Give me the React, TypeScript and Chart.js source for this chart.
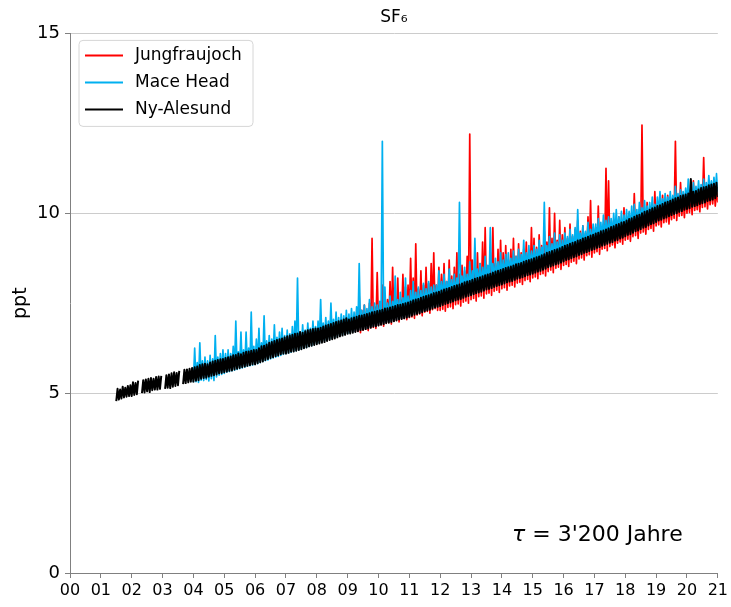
import React, { useEffect, useRef } from "react";
import { Chart, registerables } from "chart.js";

Chart.register(...registerables);

const FONT = '"DejaVu Sans", sans-serif';

const chartTitle = "SF₆";
const yAxisTitle = "ppt";
const noteSymbol = "τ";
const noteText = " = 3'200 Jahre";
const xTickLabels = ["00","01","02","03","04","05","06","07","08","09","10","11","12","13","14","15","16","17","18","19","20","21"];
const xMin = 2000;
const xMax = 2021;
const yTicks = [0, 5, 10, 15];

const seriesNames = ["Jungfraujoch", "Mace Head", "Ny-Alesund"];
const seriesColors = ["#ff0000", "#00b0f0", "#000000"];

// monthly minimum / maximum of the records; first month of each station
const monthYears = 1 / 12;
const jungfraujochStart = 2009.25;
const maceHeadStart = 2004.0;
const nyAlesundStart = 2001.5;

const jungfraujochLow = [
  6.7, 6.72, 6.68, 6.75, 6.78, 6.74, 6.82, 6.83, 6.8,
  6.88, 6.9, 6.86, 6.94, 6.96, 6.92, 7.0, 7.03, 6.98, 7.06, 7.08, 7.04,
  7.1, 7.12, 7.08, 7.17, 7.2, 7.15, 7.25, 7.27, 7.22, 7.32, 7.35, 7.3,
  7.3, 7.33, 7.28, 7.38, 7.4, 7.35, 7.46, 7.48, 7.42, 7.53, 7.56, 7.5,
  7.6, 7.63, 7.56, 7.68, 7.7, 7.64, 7.76, 7.78, 7.72, 7.83, 7.86, 7.8,
  7.9, 7.93, 7.86, 7.98, 8.0, 7.95, 8.06, 8.08, 8.02, 8.13, 8.16, 8.1,
  8.2, 8.23, 8.18, 8.3, 8.32, 8.26, 8.38, 8.42, 8.35, 8.47, 8.5, 8.44,
  8.55, 8.58, 8.52, 8.64, 8.67, 8.6, 8.73, 8.76, 8.7, 8.82, 8.85, 8.78,
  8.9, 8.93, 8.86, 9.0, 9.02, 8.96, 9.08, 9.12, 9.04, 9.17, 9.2, 9.14,
  9.25, 9.28, 9.22, 9.35, 9.38, 9.3, 9.45, 9.48, 9.42, 9.55, 9.58, 9.5,
  9.65, 9.68, 9.62, 9.74, 9.76, 9.7, 9.82, 9.86, 9.8, 9.92, 9.94, 9.88,
  10.0, 10.02, 9.96, 10.08, 10.1, 10.04, 10.16, 10.18, 10.12, 10.24, 10.26, 10.2,
  10.3,
];
const jungfraujochHigh = [
  7.25, 7.7, 7.3, 7.45, 7.3, 7.5, 9.3, 7.4, 8.35,
  7.45, 8.0, 7.75, 7.6, 8.1, 8.5, 7.7, 8.2, 7.6, 8.3, 7.95, 8.0,
  8.75, 8.2, 9.15, 7.9, 8.4, 8.0, 8.5, 8.05, 8.6, 8.9, 8.0, 8.5,
  8.3, 8.6, 8.1, 8.7, 8.25, 8.5, 8.9, 8.3, 8.55, 8.4, 8.8, 12.2,
  8.7, 8.5, 8.9, 8.6, 9.2, 9.6, 8.5, 8.9, 9.6, 8.6, 9.0, 9.25,
  8.9, 9.1, 8.7, 9.0, 9.3, 8.8, 9.15, 8.9, 9.0, 9.2, 8.95, 9.6,
  9.3, 9.05, 9.4, 9.1, 9.5, 9.2, 10.15, 9.3, 10.0, 9.25, 9.8, 9.4,
  9.6, 9.3, 9.7, 9.35, 9.55, 9.8, 9.5, 9.65, 9.45, 9.9, 10.35, 9.6,
  9.6, 10.2, 9.55, 9.7, 11.25, 10.9, 9.65, 9.8, 9.7, 9.9, 9.75, 10.15,
  9.85, 10.0, 9.9, 10.55, 9.95, 10.1, 12.45, 10.05, 10.3, 10.1, 10.2, 10.6,
  10.2, 10.3, 10.5, 10.3, 10.5, 10.35, 10.45, 12.0, 10.4, 10.85, 10.45, 10.55,
  10.5, 10.65, 10.9, 10.6, 10.7, 10.65, 11.55, 10.7, 10.8, 10.75, 10.85, 10.6,
  10.5,
];

const maceHeadLow = [
  5.3, 5.32, 5.3, 5.36, 5.35, 5.38, 5.34, 5.4, 5.35, 5.45, 5.5, 5.52,
  5.55, 5.58, 5.6, 5.62, 5.64, 5.66, 5.68, 5.7, 5.72, 5.75, 5.76, 5.78,
  5.8, 5.82, 5.85, 5.88, 5.9, 5.92, 5.95, 5.98, 6.0, 6.02, 6.05, 6.08,
  6.1, 6.12, 6.14, 6.16, 6.18, 6.2, 6.22, 6.25, 6.27, 6.3, 6.32, 6.35,
  6.38, 6.4, 6.42, 6.45, 6.48, 6.5, 6.52, 6.55, 6.58, 6.6, 6.62, 6.65,
  6.66, 6.68, 6.7, 6.72, 6.75, 6.76, 6.78, 6.8, 6.82, 6.85, 6.86, 6.88,
  6.9, 6.92, 6.95, 6.96, 6.98, 7.0, 7.02, 7.05, 7.06, 7.08, 7.1, 7.12,
  7.15, 7.18, 7.2, 7.22, 7.25, 7.28, 7.3, 7.32, 7.35, 7.38, 7.4, 7.42,
  7.55, 7.58, 7.6, 7.62, 7.65, 7.68, 7.7, 7.72, 7.75, 7.78, 7.8, 7.82,
  7.85, 7.88, 7.9, 7.92, 7.95, 7.98, 8.0, 8.02, 8.05, 8.08, 8.1, 8.12,
  8.15, 8.18, 8.2, 8.22, 8.25, 8.28, 8.3, 8.32, 8.35, 8.38, 8.4, 8.42,
  8.45, 8.48, 8.5, 8.53, 8.56, 8.6, 8.62, 8.65, 8.68, 8.7, 8.73, 8.76,
  8.8, 8.82, 8.85, 8.88, 8.9, 8.94, 8.96, 9.0, 9.02, 9.05, 9.08, 9.1,
  9.15, 9.18, 9.2, 9.22, 9.25, 9.28, 9.32, 9.34, 9.38, 9.4, 9.44, 9.46,
  9.5, 9.54, 9.56, 9.6, 9.64, 9.66, 9.7, 9.74, 9.76, 9.8, 9.84, 9.86,
  9.9, 9.94, 9.96, 10.0, 10.02, 10.06, 10.08, 10.12, 10.14, 10.18, 10.2, 10.22,
  10.25, 10.28, 10.3, 10.32, 10.36, 10.38, 10.4, 10.44, 10.46, 10.48, 10.5, 10.54,
  10.6,
];
const maceHeadHigh = [
  6.25, 5.85, 6.4, 5.9, 6.0, 5.9, 6.05, 5.95, 6.6, 6.0, 6.1, 6.2,
  6.1, 6.2, 6.1, 6.3, 7.0, 6.15, 6.7, 6.2, 6.7, 6.25, 7.25, 6.3,
  6.5, 6.8, 6.4, 7.15, 6.45, 6.6, 6.5, 6.9, 6.55, 6.7, 6.8, 6.6,
  6.75, 6.65, 6.85, 7.0, 8.2, 6.7, 6.9, 6.75, 6.95, 6.8, 7.0, 6.85,
  7.0, 7.6, 6.95, 7.1, 7.0, 7.5, 7.05, 7.25, 7.1, 7.2, 7.15, 7.3,
  7.2, 7.35, 7.25, 7.4, 8.6, 7.3, 7.45, 7.35, 7.6, 7.4, 7.5, 7.45,
  7.55, 12.0, 7.95, 7.5, 7.7, 7.55, 8.25, 7.6, 7.8, 7.65, 8.2, 7.7,
  7.85, 8.1, 7.8, 7.95, 7.85, 8.05, 7.9, 8.1, 7.95, 8.0, 8.0, 8.4,
  8.1, 8.3, 8.1, 8.45, 8.15, 8.3, 8.2, 10.3, 8.25, 8.5, 8.3, 8.65,
  8.4, 9.3, 8.45, 8.6, 8.5, 8.8, 8.55, 9.6, 8.6, 8.75, 8.65, 8.9,
  8.7, 8.85, 8.9, 8.75, 8.95, 8.8, 9.0, 8.85, 9.25, 8.9, 9.1, 8.95,
  9.1, 9.0, 9.25, 9.05, 10.3, 9.1, 9.35, 9.15, 9.45, 9.2, 9.4, 9.25,
  9.45, 9.35, 9.55, 9.4, 9.6, 10.1, 9.45, 9.65, 9.5, 9.75, 9.55, 9.7,
  9.7, 9.85, 9.75, 9.95, 9.8, 9.9, 9.85, 10.0, 10.1, 9.9, 10.05, 9.95,
  10.1, 10.05, 10.2, 10.25, 10.1, 10.3, 10.15, 10.35, 10.2, 10.3, 10.45, 10.25,
  10.45, 10.6, 10.4, 10.55, 10.45, 10.6, 10.5, 10.75, 10.55, 10.65, 10.6, 10.7,
  10.95, 10.7, 10.85, 10.75, 10.9, 10.8, 10.95, 10.85, 11.05, 10.9, 11.0, 11.1,
  10.9,
];

const nyAlesundLow = [
  4.78, 4.82, 4.85, 4.88, 4.9, 4.92,
  4.92, 4.95, 4.97, null, 5.0, 5.02, 5.05, 5.03, 5.08, 5.1, 5.1, 5.12,
  null, 5.12, 5.15, 5.14, 5.18, 5.2, 5.22, null, 5.25, 5.28, 5.3, 5.32,
  5.32, 5.35, 5.36, 5.4, 5.42, 5.43, 5.46, 5.48, 5.5, 5.52, 5.55, 5.56,
  5.58, 5.6, 5.62, 5.63, 5.66, 5.68, 5.7, 5.72, 5.74, 5.76, 5.78, 5.8,
  5.8, 5.83, 5.86, 5.88, 5.92, 5.95, 5.98, 6.0, 6.03, 6.05, 6.08, 6.1,
  6.1, 6.12, 6.15, 6.16, 6.18, 6.2, 6.22, 6.25, 6.27, 6.3, 6.32, 6.34,
  6.36, 6.38, 6.4, 6.42, 6.45, 6.48, 6.5, 6.52, 6.55, 6.58, 6.6, 6.62,
  6.65, 6.66, 6.68, 6.7, 6.72, 6.75, 6.76, 6.78, 6.8, 6.82, 6.85, 6.86,
  6.88, 6.9, 6.92, 6.95, 6.96, 6.98, 7.0, 7.02, 7.05, 7.06, 7.08, 7.1,
  7.12, 7.15, 7.18, 7.2, 7.22, 7.25, 7.28, 7.3, 7.32, 7.35, 7.38, 7.4,
  7.42, 7.45, 7.48, 7.5, 7.52, 7.55, 7.58, 7.6, 7.62, 7.65, 7.68, 7.7,
  7.72, 7.75, 7.78, 7.8, 7.82, 7.85, 7.88, 7.9, 7.92, 7.95, 7.98, 8.0,
  8.02, 8.05, 8.08, 8.1, 8.12, 8.15, 8.18, 8.2, 8.22, 8.25, 8.28, 8.3,
  8.32, 8.35, 8.38, 8.4, 8.43, 8.46, 8.5, 8.52, 8.55, 8.58, 8.6, 8.63,
  8.66, 8.7, 8.72, 8.75, 8.78, 8.8, 8.84, 8.86, 8.9, 8.92, 8.95, 8.98,
  9.0, 9.04, 9.06, 9.1, 9.12, 9.15, 9.18, 9.2, 9.24, 9.26, 9.3, 9.32,
  9.36, 9.4, 9.42, 9.46, 9.5, 9.52, 9.56, 9.6, 9.62, 9.66, 9.7, 9.72,
  9.76, 9.8, 9.82, 9.86, 9.88, 9.92, 9.95, 9.98, 10.0, 10.04, 10.06, 10.1,
  10.12, 10.14, 10.18, 10.2, 10.22, 10.26, 10.28, 10.3, 10.34, 10.36, 10.38, 10.42,
  10.45,
];
const nyAlesundHigh = [
  5.12, 5.1, 5.18, 5.15, 5.2, 5.22,
  5.3, 5.28, 5.35, null, 5.36, 5.38, 5.4, 5.42, 5.4, 5.45, 5.46, 5.48,
  null, 5.5, 5.52, 5.55, 5.58, 5.56, 5.62, null, 5.65, 5.66, 5.68, 5.7,
  5.72, 5.74, 5.78, 5.8, 5.82, 5.8, 5.85, 5.88, 5.9, 5.92, 5.94, 5.95,
  5.98, 6.0, 6.02, 6.05, 6.06, 6.1, 6.08, 6.12, 6.15, 6.16, 6.18, 6.2,
  6.2, 6.25, 6.3, 6.32, 6.35, 6.4, 6.42, 6.45, 6.48, 6.5, 6.52, 6.55,
  6.58, 6.6, 6.62, 6.65, 6.66, 6.7, 6.68, 6.72, 6.75, 6.76, 6.78, 6.8,
  6.8, 6.82, 6.85, 6.88, 6.9, 6.92, 6.95, 6.98, 7.0, 7.02, 7.05, 7.08,
  7.05, 7.08, 7.1, 7.12, 7.15, 7.16, 7.18, 7.2, 7.22, 7.25, 7.26, 7.28,
  7.3, 7.32, 7.35, 7.36, 7.38, 7.4, 7.42, 7.45, 7.46, 7.48, 7.5, 7.52,
  7.55, 7.58, 7.6, 7.62, 7.65, 7.68, 7.7, 7.72, 7.75, 7.78, 7.8, 7.82,
  7.85, 7.88, 7.9, 7.92, 7.95, 7.98, 8.0, 8.02, 8.05, 8.08, 8.1, 8.12,
  8.15, 8.18, 8.2, 8.22, 8.25, 8.28, 8.3, 8.32, 8.35, 8.38, 8.4, 8.42,
  8.45, 8.48, 8.5, 8.52, 8.55, 8.58, 8.6, 8.62, 8.65, 8.68, 8.7, 8.72,
  8.75, 8.78, 8.8, 8.83, 8.86, 8.9, 8.92, 8.95, 8.98, 9.0, 9.03, 9.06,
  9.1, 9.12, 9.15, 9.18, 9.2, 9.24, 9.26, 9.3, 9.32, 9.35, 9.38, 9.4,
  9.44, 9.46, 9.5, 9.52, 9.55, 9.58, 9.62, 9.64, 9.68, 9.7, 9.74, 9.76,
  9.8, 9.84, 9.86, 9.9, 9.94, 9.96, 10.0, 10.04, 10.06, 10.1, 10.14, 10.16,
  10.2, 10.22, 10.26, 10.3, 10.32, 10.35, 10.38, 10.42, 10.44, 10.48, 10.5, 10.52,
  10.55, 10.95, 10.6, 10.62, 10.66, 10.7, 10.72, 10.74, 10.78, 10.8, 10.82, 10.85,
  10.75,
];

function toPoints(start: number, lows: (number | null)[], highs: (number | null)[]) {
  const pts: { x: number; y: number | null }[] = [];
  lows.forEach((lo, i) => {
    const t = start + i * monthYears;
    pts.push({ x: t, y: lo });
    pts.push({ x: t + monthYears / 2, y: highs[i] });
  });
  return pts;
}

const legendPlugin = {
  id: "boxLegend",
  afterDatasetsDraw(chart: any) {
    const ctx = chart.ctx;
    const ca = chart.chartArea;
    const x0 = ca.left + 9;
    const y0 = ca.top + 7;
    const w = 174;
    const h = 86;
    const r = 4;
    ctx.save();
    ctx.beginPath();
    ctx.moveTo(x0 + r, y0);
    ctx.lineTo(x0 + w - r, y0);
    ctx.quadraticCurveTo(x0 + w, y0, x0 + w, y0 + r);
    ctx.lineTo(x0 + w, y0 + h - r);
    ctx.quadraticCurveTo(x0 + w, y0 + h, x0 + w - r, y0 + h);
    ctx.lineTo(x0 + r, y0 + h);
    ctx.quadraticCurveTo(x0, y0 + h, x0, y0 + h - r);
    ctx.lineTo(x0, y0 + r);
    ctx.quadraticCurveTo(x0, y0, x0 + r, y0);
    ctx.closePath();
    ctx.fillStyle = "rgba(255,255,255,0.85)";
    ctx.fill();
    ctx.strokeStyle = "#d6d6d6";
    ctx.lineWidth = 1;
    ctx.stroke();
    ctx.font = `17px ${FONT}`;
    ctx.textBaseline = "middle";
    ctx.textAlign = "left";
    chart.data.datasets.forEach((ds: any, i: number) => {
      const yy = y0 + 15 + i * 27;
      ctx.strokeStyle = ds.borderColor;
      ctx.lineWidth = 2;
      ctx.beginPath();
      ctx.moveTo(x0 + 6, yy);
      ctx.lineTo(x0 + 44, yy);
      ctx.stroke();
      ctx.fillStyle = "#000";
      ctx.fillText(ds.label, x0 + 56, yy);
    });
    ctx.restore();
  },
};

const notePlugin = {
  id: "tauNote",
  afterDraw(chart: any) {
    const ctx = chart.ctx;
    const ca = chart.chartArea;
    ctx.save();
    ctx.fillStyle = "#000";
    ctx.textBaseline = "alphabetic";
    ctx.textAlign = "left";
    const x = ca.left + 442;
    const y = ca.bottom - 32;
    ctx.font = `italic 22px ${FONT}`;
    ctx.fillText(noteSymbol, x, y);
    const w = ctx.measureText(noteSymbol).width;
    ctx.font = `22px ${FONT}`;
    ctx.fillText(noteText, x + w, y);
    ctx.restore();
  },
};

export default function App() {
  const ref = useRef<HTMLCanvasElement | null>(null);

  useEffect(() => {
    if (!ref.current) return;
    const chart = new Chart(ref.current, {
      type: "line",
      data: {
        datasets: [
          { label: seriesNames[0], data: toPoints(jungfraujochStart, jungfraujochLow, jungfraujochHigh), order: 3 },
          { label: seriesNames[1], data: toPoints(maceHeadStart, maceHeadLow, maceHeadHigh), order: 2 },
          { label: seriesNames[2], data: toPoints(nyAlesundStart, nyAlesundLow, nyAlesundHigh), order: 1 },
        ].map((d, i) => ({
          ...d,
          borderColor: seriesColors[i],
          backgroundColor: seriesColors[i],
          borderWidth: i === 2 ? 2 : 1.7,
          pointRadius: 0,
          tension: 0,
          spanGaps: false,
          borderJoinStyle: "round" as const,
          fill: false,
        })),
      },
      options: {
        animation: false,
        responsive: true,
        maintainAspectRatio: false,
        layout: { padding: { top: 0, right: 11, left: 0, bottom: 0 } },
        plugins: {
          legend: { display: false },
          tooltip: { enabled: false },
          title: {
            display: true,
            text: chartTitle,
            fullSize: false,
            color: "#000",
            font: { family: FONT, size: 17, weight: "normal" },
            padding: { top: 7, bottom: 6 },
          },
        },
        scales: {
          x: {
            type: "linear",
            min: xMin,
            max: xMax,
            afterFit: (s: any) => { s.height = 34; },
            afterBuildTicks: (s: any) => {
              s.ticks = xTickLabels.map((_, i) => ({ value: xMin + i }));
            },
            ticks: {
              autoSkip: false,
              maxRotation: 0,
              padding: 3,
              color: "#000",
              font: { family: FONT, size: 16 },
              callback: (v: any) => xTickLabels[Math.round(Number(v) - xMin)],
            },
            grid: { drawOnChartArea: false, color: "#808080", tickLength: 5 },
            border: { color: "#808080", width: 1 },
          },
          y: {
            min: 0,
            max: 15,
            afterFit: (s: any) => { s.width = 70; },
            afterBuildTicks: (s: any) => {
              s.ticks = yTicks.map((v) => ({ value: v }));
            },
            ticks: {
              padding: 5,
              color: "#000",
              font: { family: FONT, size: 18 },
            },
            grid: { color: "#cccccc", tickColor: "#808080", tickLength: 5 },
            border: { color: "#808080", width: 1 },
            title: {
              display: true,
              text: yAxisTitle,
              color: "#000",
              font: { family: FONT, size: 19 },
              padding: { top: 10, bottom: 0 },
            },
          },
        },
      },
      plugins: [legendPlugin, notePlugin],
    });
    return () => chart.destroy();
  }, []);

  return (
    <div style={{ position: "fixed", left: 0, top: 0, width: 731, height: 607, background: "#fff" }}>
      <canvas ref={ref} />
    </div>
  );
}
